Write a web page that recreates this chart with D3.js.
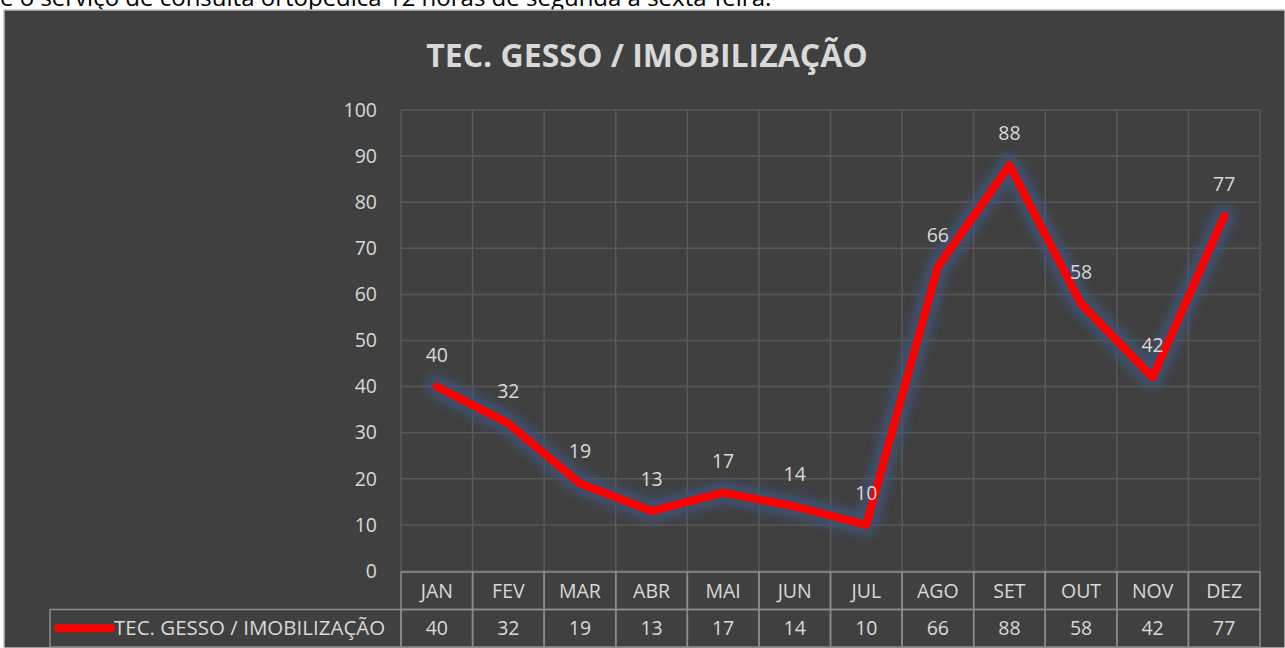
<!DOCTYPE html>
<html><head><meta charset="utf-8">
<script src="https://cdn.jsdelivr.net/npm/d3@7"></script>
<style>html,body{margin:0;padding:0;background:#fff;overflow:hidden}svg{display:block}</style>
</head><body>
<script>
const months = ["JAN","FEV","MAR","ABR","MAI","JUN","JUL","AGO","SET","OUT","NOV","DEZ"];
const values = [40,32,19,13,17,14,10,66,88,58,42,77];
const seriesName = "TEC. GESSO / IMOBILIZAÇÃO";
const chartTitle = "TEC. GESSO / IMOBILIZAÇÃO";
const yTicks = [0,10,20,30,40,50,60,70,80,90,100];
const topText = "e o serviço de consulta ortopédica 12 horas de segunda à sexta-feira.";

(function(){
const W = 1285, H = 648;
const FONT = "'Open Sans', sans-serif";
const FS = 19.5;
const svg = d3.select("body").append("svg").attr("width", W).attr("height", H);

const defs = svg.append("defs");
const f = defs.append("filter").attr("id","glow").attr("x","-20%").attr("y","-20%").attr("width","140%").attr("height","140%");
f.append("feGaussianBlur").attr("stdDeviation", 5);

// cut-off text above (partly hidden by the top edge, as in the source)
svg.append("text").attr("x", 0).attr("y", 6).attr("font-family", FONT).attr("font-size", 24)
  .attr("fill", "#000").text(topText);

// chart background
svg.append("rect").attr("x", 4).attr("y", 10).attr("width", W - 4).attr("height", H - 10)
  .attr("fill", "#404040").attr("stroke", "#bfbfbf").attr("stroke-width", 1.5);

const pLeft = 401, pRight = 1260, pTop = 110, pBottom = 571;
const x = d3.scaleBand().domain(months).range([pLeft, pRight]);
const y = d3.scaleLinear().domain([0, 100]).range([pBottom, pTop]);

// gridlines
svg.append("g").selectAll("line").data(yTicks).join("line")
  .attr("x1", pLeft).attr("x2", pRight).attr("y1", d => y(d)).attr("y2", d => y(d))
  .attr("stroke", "#595959").attr("stroke-width", 1.5);
svg.append("g").selectAll("line").data(months.concat(["__end"])).join("line")
  .attr("x1", (d,i) => pLeft + i * x.bandwidth()).attr("x2", (d,i) => pLeft + i * x.bandwidth())
  .attr("y1", pTop).attr("y2", pBottom)
  .attr("stroke", "#595959").attr("stroke-width", 1.5);

// y axis labels
const yAxis = d3.axisLeft(y).tickValues(yTicks).tickSize(0).tickPadding(24);
const ga = svg.append("g").attr("transform", `translate(${pLeft},0)`).call(yAxis);
ga.select(".domain").remove();
ga.selectAll("text").attr("font-family", FONT).attr("font-size", FS).attr("fill", "#d9d9d9");

// title
svg.append("text").attr("x", 647).attr("y", 67).attr("text-anchor", "middle")
  .attr("font-family", FONT).attr("font-weight", "bold").attr("font-size", 32)
  .attr("fill", "#d9d9d9").text(chartTitle);

// line
const line = d3.line().x((d,i) => x(months[i]) + x.bandwidth()/2).y(d => y(d));
svg.append("path").datum(values).attr("d", line).attr("fill","none")
  .attr("stroke", "#3f5580").attr("stroke-width", 22).attr("stroke-opacity", 0.75)
  .attr("stroke-linejoin","round").attr("stroke-linecap","round").attr("filter","url(#glow)");
svg.append("path").datum(values).attr("d", line).attr("fill","none")
  .attr("stroke", "#ff0000").attr("stroke-width", 8)
  .attr("stroke-linejoin","round").attr("stroke-linecap","round");

// data labels
svg.append("g").selectAll("text").data(values).join("text")
  .attr("x", (d,i) => x(months[i]) + x.bandwidth()/2)
  .attr("y", d => y(d) - 25)
  .attr("text-anchor", "middle")
  .attr("font-family", FONT).attr("font-size", FS).attr("fill", "#d9d9d9").text(d => d);

// data table
const rowH = 37.5;
const tTop = pBottom + 1;
const border = "#8c8c8c";
const tbl = svg.append("g");
tbl.selectAll("rect.h").data(months).join("rect").attr("class","h")
  .attr("x", d => x(d)).attr("y", tTop).attr("width", x.bandwidth()).attr("height", rowH)
  .attr("fill","none").attr("stroke", border).attr("stroke-width", 1.5);
tbl.selectAll("text.h").data(months).join("text").attr("class","h")
  .attr("x", d => x(d) + x.bandwidth()/2).attr("y", tTop + rowH/2 + 7)
  .attr("text-anchor","middle").attr("font-family", FONT).attr("font-size", FS).attr("fill","#d9d9d9")
  .text(d => d);
tbl.selectAll("rect.v").data(values).join("rect").attr("class","v")
  .attr("x", (d,i) => x(months[i])).attr("y", tTop + rowH).attr("width", x.bandwidth()).attr("height", rowH)
  .attr("fill","none").attr("stroke", border).attr("stroke-width", 1.5);
tbl.selectAll("text.v").data(values).join("text").attr("class","v")
  .attr("x", (d,i) => x(months[i]) + x.bandwidth()/2).attr("y", tTop + rowH*1.5 + 7)
  .attr("text-anchor","middle").attr("font-family", FONT).attr("font-size", FS).attr("fill","#d9d9d9")
  .text(d => d);
tbl.append("rect").attr("x", 50).attr("y", tTop + rowH).attr("width", pLeft - 50).attr("height", rowH)
  .attr("fill","none").attr("stroke", border).attr("stroke-width", 1.5);
tbl.append("line").attr("x1", 58).attr("x2", 111).attr("y1", tTop + rowH*1.5).attr("y2", tTop + rowH*1.5)
  .attr("stroke","#ff0000").attr("stroke-width", 8).attr("stroke-linecap","round");
tbl.append("text").attr("x", 114).attr("y", tTop + rowH*1.5 + 7)
  .attr("font-family", FONT).attr("font-size", 20.5).attr("fill","#d9d9d9").text(seriesName);
})();
</script>
</body></html>
